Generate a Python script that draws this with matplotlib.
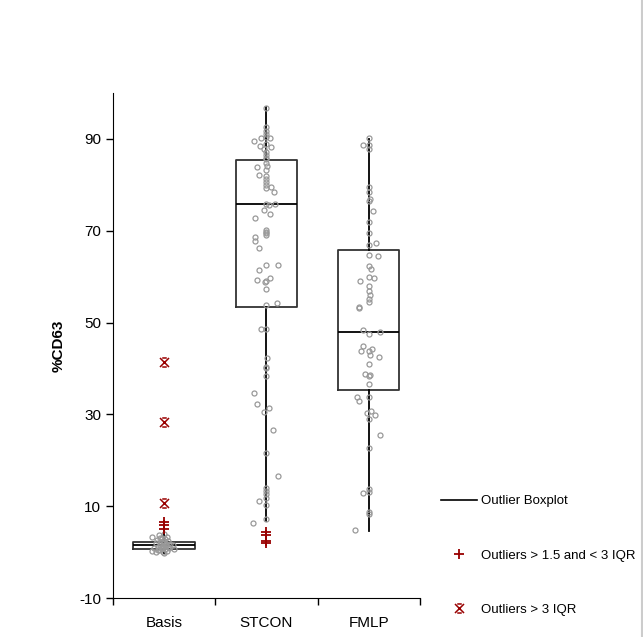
import matplotlib.pyplot as plt
from matplotlib.path import Path
from matplotlib.lines import Line2D

plt.rcParams['font.family'] = ['Liberation Sans', 'DejaVu Sans']
plt.rcParams['axes.unicode_minus'] = False

# groups
groups = ['Basis', 'STCON', 'FMLP']

# box statistics
q1 = [0.7, 53.3, 35.4]
med = [1.5, 75.8, 48.0]
q3 = [2.2, 85.5, 65.7]
whis_lo = [-0.2, 6.7, 4.6]
whis_hi = [4.5, 97.0, 90.0]

# outliers
mild_basis = [6.5, 5.8, 5.0]
mild_stcon = [4.3, 3.8, 2.4, 2.0]
extreme_basis = [41.3, 28.3, 10.7]

# individual values and their jitter (in category units)
basis_vals = [3.3, 3.7, 3.9, 3.3, 3.0, 2.8, 2.6, 2.4, 2.2, 2.0, 1.9, 1.8, 1.6, 1.5,
              1.4, 1.3, 1.2, 1.1, 1.0, 0.9, 0.8, 0.7, 0.6, 0.5, 0.4, 0.3, 0.2, 0.1,
              0.0, -0.2, 2.5, 3.1, 1.7, 0.9]
basis_jit = [-0.12, -0.05, 0.0, 0.03, -0.02, 0.01, -0.07, 0.04, -0.03, -0.08, 0.0,
             0.06, -0.04, 0.09, 0.02, -0.01, -0.06, 0.04, -0.10, 0.05, -0.02, 0.01,
             0.10, -0.05, -0.06, -0.12, 0.03, -0.01, -0.08, 0.0, -0.01, -0.04, 0.02,
             -0.03]

stcon_vals = [96.8, 92.5, 91.8, 91.0, 90.4, 89.6, 90.1, 90.1, 89.0, 88.5, 88.3, 87.8,
              87.2, 86.6, 85.9, 85.6, 84.8, 84.1, 83.8, 83.2, 82.2, 82.0, 81.3, 80.6,
              79.9, 79.6, 79.2, 78.5, 75.9, 75.9, 75.6, 74.6, 73.7, 72.8, 70.2, 69.8,
              69.4, 69.0, 68.7, 67.8, 66.2, 62.6, 62.6, 61.5, 59.6, 59.3, 59.1, 58.8,
              57.2, 53.9, 54.2, 48.7, 48.5, 42.2, 40.4, 40.0, 38.3, 34.6, 32.2, 31.4,
              30.5, 26.5, 21.5, 16.5, 13.9, 13.4, 12.6, 11.7, 11.1, 10.2, 7.2, 6.3]
stcon_jit = [0.0, 0.0, 0.0, 0.0, 0.0, -0.12, -0.05, 0.03, 0.0, -0.06, 0.04, -0.02,
             0.0, 0.0, 0.0, 0.0, 0.0, 0.01, -0.09, 0.0, -0.07, 0.0, 0.0, 0.0,
             0.0, 0.04, 0.0, 0.07, 0.0, 0.08, 0.02, -0.02, 0.03, -0.11, 0.0, 0.0,
             0.0, 0.0, -0.11, -0.11, -0.07, 0.0, 0.11, -0.07, 0.03, -0.09, 0.0, -0.01,
             0.0, 0.0, 0.10, 0.0, -0.05, 0.01, 0.0, 0.0, 0.0, -0.12, -0.09, 0.02,
             -0.02, 0.06, 0.0, 0.11, 0.0, 0.0, 0.0, 0.0, -0.07, 0.0, 0.0, -0.13]

fmlp_vals = [90.2, 88.7, 88.7, 87.8, 79.6, 78.5, 77.0, 76.4, 74.2, 71.8, 69.6, 67.0,
             67.4, 64.8, 64.6, 62.4, 61.6, 60.0, 59.6, 59.0, 58.0, 56.8, 55.9, 55.2,
             54.4, 53.4, 53.1, 48.3, 47.6, 48.0, 45.0, 43.9, 44.2, 43.7, 43.0, 42.4,
             40.9, 38.8, 38.6, 38.3, 36.6, 33.8, 33.0, 33.7, 30.3, 30.7, 29.8, 28.9,
             25.4, 22.6, 13.7, 13.1, 12.8, 8.7, 8.3, 4.8]
fmlp_jit = [0.0, -0.06, 0.0, 0.0, 0.0, 0.0, 0.01, 0.0, 0.04, 0.0, 0.0, 0.0,
            0.07, 0.0, 0.09, 0.0, 0.02, 0.0, 0.05, -0.09, 0.0, 0.0, 0.01, 0.0,
            0.0, -0.10, -0.10, -0.06, 0.0, 0.11, -0.06, -0.08, 0.03, 0.0, 0.01, 0.10,
            0.0, -0.04, 0.01, 0.0, 0.0, -0.12, -0.10, 0.0, -0.02, 0.02, 0.06, 0.0,
            0.11, 0.0, 0.0, 0.0, -0.06, 0.0, 0.0, -0.13]

red = '#990000'
gray = '#999999'

# X with short bars top and bottom
star = Path([(-1, -1), (1, 1), (-1, 1), (1, -1), (-0.5, 1), (0.5, 1), (-0.5, -1), (0.5, -1)],
            [Path.MOVETO, Path.LINETO] * 4)

fig = plt.figure(figsize=(6.43, 6.37), dpi=100)
ax = fig.add_axes([0.1757, 0.0612, 0.4774, 0.7928])

stats = []
for i in range(3):
    stats.append({'q1': q1[i], 'med': med[i], 'q3': q3[i],
                  'whislo': whis_lo[i], 'whishi': whis_hi[i], 'fliers': []})
ax.bxp(stats, positions=[1, 2, 3], widths=0.6, showfliers=False, showcaps=False,
       boxprops=dict(color='#333333', linewidth=1.3),
       medianprops=dict(color='black', linewidth=1.3),
       whiskerprops=dict(color='black', linewidth=1.3))

for pos, vals, jit in [(1, basis_vals, basis_jit), (2, stcon_vals, stcon_jit),
                       (3, fmlp_vals, fmlp_jit)]:
    ax.plot([pos + j for j in jit], vals, 'o', ms=3.6, mfc='none', mec=gray,
            mew=0.9, zorder=3)

ax.plot([1] * len(mild_basis), mild_basis, '+', color=red, ms=7, mew=1.3, zorder=4)
ax.plot([2] * len(mild_stcon), mild_stcon, '+', color=red, ms=7, mew=1.3, zorder=4)
ax.plot([1] * len(extreme_basis), extreme_basis, marker=star, ls='none', color=red,
        mfc='none', ms=6.5, mew=1.1, zorder=4)

ax.set_xlim(0.5, 3.5)
ax.set_ylim(-10, 100)
ax.set_yticks([-10, 10, 30, 50, 70, 90])
ax.set_xticks([0.5, 1.5, 2.5, 3.5])
ax.set_xticklabels([])
ax.set_xticks([1, 2, 3], minor=True)
ax.set_xticklabels(groups, minor=True)
ax.tick_params(axis='x', which='minor', length=0, pad=13, labelsize=11)
ax.tick_params(axis='both', which='major', length=5, width=1, labelsize=11)
ax.spines['top'].set_visible(False)
ax.spines['right'].set_visible(False)
ax.set_ylabel('%CD63', fontweight='bold', fontsize=11)
ax.yaxis.set_label_coords(-0.155, 0.5)

handles = [Line2D([], [], color='black', lw=1.2),
           Line2D([], [], ls='none', marker='+', color=red, ms=7, mew=1.3),
           Line2D([], [], ls='none', marker=star, color=red, mfc='none', ms=6.5, mew=1.1)]
labels = ['Outlier Boxplot', 'Outliers > 1.5 and < 3 IQR', 'Outliers > 3 IQR']
fig.legend(handles, labels, loc='center left', bbox_to_anchor=(0.686, 0.128),
           frameon=False, fontsize=9.5, labelspacing=3.2, handlelength=2.7,
           handletextpad=0.3, borderpad=0, borderaxespad=0)

fig.add_artist(Line2D([0.998, 0.998], [0, 1], color='#cccccc', lw=1.5))

fig.savefig('out.png', dpi=100)
